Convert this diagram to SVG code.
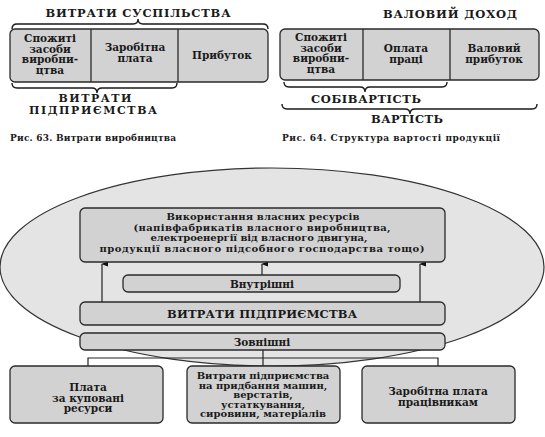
<svg xmlns="http://www.w3.org/2000/svg" width="545" height="437" viewBox="0 0 545 437">
<style>
text{font-family:'DejaVu Serif','Liberation Serif',serif;font-weight:bold;fill:#1a1a1a;text-anchor:middle}
.box{fill:#d2d2d2;stroke:#2a2a2a;stroke-width:1.3}
.div{stroke:#2a2a2a;stroke-width:1.3}
.brace{fill:none;stroke:#1a1a1a;stroke-width:1.4}
.h{font-size:11.5px}
.t{font-size:10.5px}
.s{font-size:10px}
.cap{font-size:9px;text-anchor:start}
.conn{fill:none;stroke:#222;stroke-width:1.2}
</style>
<defs>
<marker id="ah" viewBox="0 0 8 8" refX="4" refY="1" markerWidth="6" markerHeight="6" orient="auto-start-reverse">
<path d="M1,8 L4,0 L7,8 Z" fill="#111"/>
</marker>
</defs>
<rect width="545" height="437" fill="#fff"/>

<!-- Fig 63 -->
<g id="fig63">
<text class="h" x="138" y="17" textLength="185">ВИТРАТИ СУСПІЛЬСТВА</text>
<path class="brace" d="M12,29 Q12,24 17,24 L133,24 Q138,24 138,19 Q138,24 143,24 L263,24 Q268,24 268,29"/>
<g id="n63box">
<rect class="box" x="10" y="29" width="258" height="53" rx="5"/>
<line class="div" x1="91" y1="29" x2="91" y2="82"/>
<line class="div" x1="178" y1="29" x2="178" y2="82"/>
<text class="t" x="50" y="42">Спожиті</text>
<text class="t" x="50" y="52.5">засоби</text>
<text class="t" x="50" y="63">виробни-</text>
<text class="t" x="50" y="73.5">цтва</text>
<text class="t" x="135" y="51">Заробітна</text>
<text class="t" x="135" y="62">плата</text>
<text class="t" x="222" y="59">Прибуток</text>
</g>
<path class="brace" d="M12,83 Q12,88 17,88 L92,88 Q97,88 97,93 Q97,88 102,88 L172,88 Q177,88 177,83"/>
<text class="h" x="95" y="102" style="font-size:11px" textLength="73">ВИТРАТИ</text>
<text class="h" x="93" y="114" style="font-size:11px" textLength="128">ПІДПРИЄМСТВА</text>
<text class="cap" x="10" y="141" textLength="166">Рис. 63. Витрати виробництва</text>
</g>

<!-- Fig 64 -->
<g id="fig64">
<text class="h" x="450" y="18" textLength="134">ВАЛОВИЙ ДОХОД</text>
<g id="n64box">
<rect class="box" x="280" y="29" width="259" height="51" rx="5"/>
<line class="div" x1="363" y1="29" x2="363" y2="80"/>
<line class="div" x1="450" y1="29" x2="450" y2="80"/>
<text class="t" x="321" y="41">Спожиті</text>
<text class="t" x="321" y="51.5">засоби</text>
<text class="t" x="321" y="62">виробни-</text>
<text class="t" x="321" y="72.5">цтва</text>
<text class="t" x="406" y="52">Оплата</text>
<text class="t" x="406" y="63">праці</text>
<text class="t" x="494" y="52">Валовий</text>
<text class="t" x="494" y="63">прибуток</text>
</g>
<path class="brace" d="M284,82 Q284,87 289,87 L360,87 Q365,87 365,92 Q365,87 370,87 L442,87 Q447,87 447,82"/>
<text class="h" x="366" y="103" textLength="110">СОБІВАРТІСТЬ</text>
<path class="brace" d="M282,104 Q282,109 287,109 L405,109 Q410,109 410,114 Q410,109 415,109 L532,109 Q537,109 537,104"/>
<text class="h" x="407" y="123" textLength="72">ВАРТІСТЬ</text>
<text class="cap" x="282" y="141" textLength="218">Рис. 64. Структура вартості продукції</text>
</g>

<!-- Fig bottom -->
<ellipse id="oval" cx="272" cy="267" rx="272" ry="99" fill="#e4e4e4" stroke="#333" stroke-width="1.2"/>

<g id="connectors">
<line class="conn" x1="102" y1="302" x2="102" y2="264" marker-end="url(#ah)"/>
<line class="conn" x1="420" y1="302" x2="420" y2="264" marker-end="url(#ah)"/>
<line class="conn" x1="262" y1="275" x2="262" y2="264" marker-end="url(#ah)"/>
<line class="conn" x1="263" y1="350" x2="263" y2="366"/>
<polyline class="conn" points="88,366 88,358 438,358 438,366"/>
</g>

<g id="own">
<rect class="box" x="80" y="208" width="365" height="54" rx="5" fill="#dadada"/>
<text class="s" x="263" y="220" textLength="193">Використання власних ресурсів</text>
<text class="s" x="262" y="230.5" textLength="257">(напівфабрикатів власного виробництва,</text>
<text class="s" x="259" y="241" textLength="217">електроенергії від власного двигуна,</text>
<text class="s" x="262" y="251.5" textLength="325">продукції власного підсобного господарства тощо)</text>
</g>

<g id="internal">
<rect class="box" x="123" y="275" width="277" height="17" rx="5" fill="#dcdcdc"/>
<text class="t" x="262" y="287.5">Внутрішні</text>
</g>

<g id="costs">
<rect class="box" x="80" y="302" width="365" height="23" rx="5" fill="#b9b9b9"/>
<text class="h" x="262" y="318" textLength="190">ВИТРАТИ ПІДПРИЄМСТВА</text>
</g>

<g id="external">
<rect class="box" x="80" y="333" width="365" height="17" rx="5" fill="#d6d6d6"/>
<text class="t" x="262" y="345.5">Зовнішні</text>
</g>

<g id="b1">
<rect class="box" x="10" y="366" width="153" height="57" rx="5"/>
<text class="t" x="88" y="391">Плата</text>
<text class="t" x="88" y="401.5">за куповані</text>
<text class="t" x="88" y="412">ресурси</text>
</g>
<g id="b2">
<rect class="box" x="187" y="366" width="153" height="57" rx="5"/>
<text class="s" x="263" y="379">Витрати підприємства</text>
<text class="s" x="263" y="388.5">на придбання машин,</text>
<text class="s" x="263" y="398">верстатів,</text>
<text class="s" x="263" y="407.5">устаткування,</text>
<text class="s" x="263" y="417">сировини, матеріалів</text>
</g>
<g id="b3">
<rect class="box" x="362" y="366" width="153" height="57" rx="5"/>
<text class="t" x="438" y="395">Заробітна плата</text>
<text class="t" x="438" y="405.5">працівникам</text>
</g>
</svg>
